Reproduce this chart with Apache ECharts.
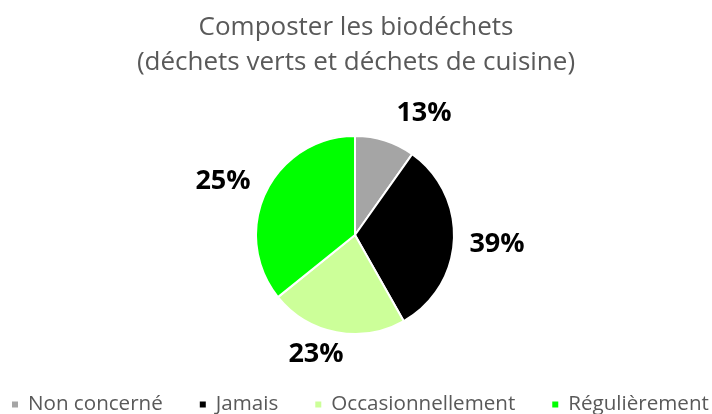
<!DOCTYPE html>
<html>
<head>
<meta charset="utf-8">
<script src="https://cdn.jsdelivr.net/npm/echarts@6/dist/echarts.min.js"></script>
<style>
html,body{margin:0;padding:0;background:#fff;}
#chart{width:712px;height:414px;}
</style>
</head>
<body>
<div id="chart"></div>
<script>
var categories = ['Non concerné', 'Jamais', 'Occasionnellement', 'Régulièrement'];
var sliceShares = [9.8, 32.0, 22.4, 35.8];
var labelTexts = ['13%', '39%', '23%', '25%'];
var colors = ['#A5A5A5', '#000000', '#CCFF99', '#00FF00'];
var titleText = 'Composter les biodéchets\n(déchets verts et déchets de cuisine)';

var labelPos = [[424, 113], [497, 244], [316, 354], [223, 181]];

var chart = echarts.init(document.getElementById('chart'), null, {renderer: 'canvas'});
var data = categories.map(function (c, i) {
  return {name: c, value: sliceShares[i], itemStyle: {color: colors[i]}};
});
chart.setOption({
  animation: false,
  backgroundColor: '#ffffff',
  title: {
    text: titleText,
    left: 'center',
    top: 5,
    textStyle: {fontFamily: 'Open Sans', fontSize: 26, fontWeight: 'normal', color: '#595959', lineHeight: 35}
  },
  legend: {
    data: categories,
    top: 394,
    left: 10,
    width: 800,
    padding: 0,
    icon: 'rect',
    itemWidth: 8,
    itemHeight: 8,
    itemGap: 35,
    textStyle: {fontFamily: 'Open Sans', fontSize: 20.6, color: '#595959', padding: [0, 0, 0, 4]}
  },
  series: [{
    type: 'pie',
    center: [355, 235],
    radius: 99,
    startAngle: 90,
    clockwise: true,
    data: data,
    itemStyle: {borderColor: '#ffffff', borderWidth: 2},
    label: {
      show: true,
      position: 'outside',
      formatter: function (p) { return labelTexts[p.dataIndex]; },
      fontFamily: 'Open Sans',
      fontSize: 27,
      fontWeight: 'bold',
      color: '#000000'
    },
    labelLine: {show: false},
    labelLayout: function (p) {
      var pos = labelPos[p.dataIndex];
      return {x: pos[0], y: pos[1], align: 'center', verticalAlign: 'middle'};
    },
    emphasis: {disabled: true}
  }]
});
</script>
</body>
</html>
